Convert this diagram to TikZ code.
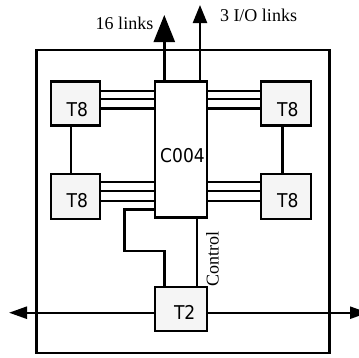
\documentclass[tikz,border=0pt]{standalone}
\usepackage{fontspec}
\setmainfont{Liberation Serif}
\newfontfamily\chipfont{DejaVu Sans Condensed}
\usepackage{tikz}
\usetikzlibrary{arrows.meta}
\definecolor{chipfill}{RGB}{245,245,245}

\begin{document}
\begin{tikzpicture}[x=1pt,y=-1pt,line width=2.4pt,
  chip/.style={draw,fill=chipfill,font=\chipfont\fontsize{19}{21}\selectfont,
    text height=23.5pt,text depth=0pt,inner sep=0pt},
  lbl/.style={font=\fontsize{18}{20}\selectfont,inner sep=0pt}]
\useasboundingbox (0,0) rectangle (359,357);
\node[draw,minimum width=293pt,minimum height=303pt] (board) at (183,201.5) {};
\node[chip,text height=26.3pt,minimum width=49pt,minimum height=44pt] (t8nw) at (75.3,103.3) {\hspace*{4pt}T8};
\node[chip,text height=26.3pt,minimum width=50pt,minimum height=44pt] (t8ne) at (285.8,103.3) {\hspace*{4pt}T8};
\node[chip,minimum width=49pt,minimum height=45pt] (t8sw) at (75.3,196.2) {\hspace*{4pt}T8};
\node[chip,minimum width=50pt,minimum height=45pt] (t8se) at (285.8,196.2) {\hspace*{4pt}T8};
\node[chip,fill=white,text height=26.3pt,minimum width=52pt,minimum height=136pt] (c004) at (180.7,149.3) {\hspace*{3.6pt}C004};
\node[chip,text height=22.3pt,minimum width=52pt,minimum height=44pt] (t2) at (180.7,308.8) {\hspace*{8pt}T2};
% links between the T8s and the C004
\foreach \y in {90.7,99,108.3} {
  \draw (t8nw.east |- 0,\y) -- (c004.west |- 0,\y);
  \draw (c004.east |- 0,\y) -- (t8ne.west |- 0,\y);
}
\foreach \y in {182,191,201} {
  \draw (t8sw.east |- 0,\y) -- (c004.west |- 0,\y);
  \draw (c004.east |- 0,\y) -- (t8se.west |- 0,\y);
}
\draw (t8nw.south -| 71,0) -- (t8sw.north -| 71,0);
\draw (t8ne.south -| 282.3,0) -- (t8se.north -| 282.3,0);
\draw (c004.west |- 0,209.3) -| (124.3,250.7) -| (t2.north -| 164.3,0);
\draw (c004.south -| 196.7,0) -- (t2.north -| 196.7,0);
\node[lbl,rotate=90] (ctl) at (212.5,259) {Control};
% outside links
\coordinate (out16) at (164.3,15);
\coordinate (outio) at (200,5);
\coordinate (linkw) at (9,312.7);
\coordinate (linke) at (368,312.7);
\draw[-{Triangle[length=27pt,width=21pt]}] (c004.north -| out16) -- (out16);
\draw[-{Triangle[length=18pt,width=14pt]}] (c004.north -| outio) -- (outio);
\draw[-{Triangle[length=18pt,width=12pt]}] (t2.west |- linkw) -- (linkw);
\draw[-{Triangle[length=18pt,width=12pt]}] (t2.east |- linke) -- (linke);
\node[lbl] (lab16) at (124.5,23) {16 links};
\node[lbl] (labio) at (258.5,15) {3 I/O links};
\end{tikzpicture}
\end{document}
